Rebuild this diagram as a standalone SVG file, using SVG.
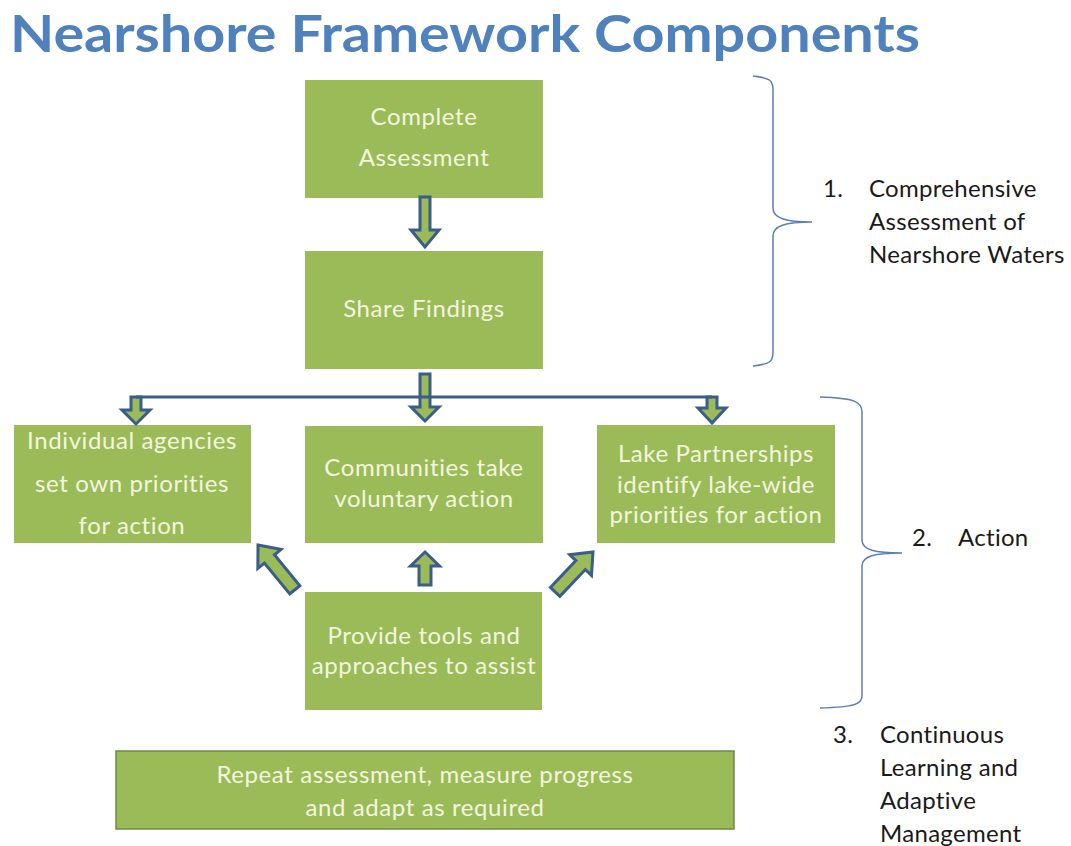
<svg xmlns="http://www.w3.org/2000/svg" width="1071" height="846" viewBox="0 0 1071 846">
  <style>
    .title { font-family: Lato, "Open Sans", sans-serif; font-weight: bold; font-size: 52px; fill: #4F81BD; }
    .box { fill: #9BBB59; }
    .box-outline { fill: #9BBB59; stroke: #6E8A4A; stroke-width: 1.5; }
    .btxt { font-family: Lato, "Open Sans", sans-serif; font-size: 24px; letter-spacing: 0.6px; fill: #F3F6DF; text-anchor: middle; }
    .lbl { font-family: Lato, "Open Sans", sans-serif; font-size: 24px; letter-spacing: 0.3px; fill: #1a1a1a; }
    .arrow { fill: #9BBB59; stroke: #3A5D8C; stroke-width: 3; stroke-linejoin: miter; }
    .line { fill: none; stroke: #3A5D8C; stroke-width: 3; }
    .brace { fill: none; stroke: #5B7FB5; stroke-width: 1.5; }
  </style>

  <text class="title" x="10" y="52" textLength="910" lengthAdjust="spacingAndGlyphs">Nearshore Framework Components</text>

  <!-- process boxes -->
  <g id="complete-assessment">
    <rect class="box" x="305" y="80" width="238" height="118"/>
    <text class="btxt" x="424" y="125">Complete</text>
    <text class="btxt" x="424" y="166">Assessment</text>
  </g>
  <g id="share-findings">
    <rect class="box" x="305" y="251" width="238" height="118"/>
    <text class="btxt" x="424" y="317">Share Findings</text>
  </g>
  <g id="individual-agencies">
    <rect class="box" x="14" y="425" width="237" height="118"/>
    <text class="btxt" x="132" y="449">Individual agencies</text>
    <text class="btxt" x="132" y="492">set own priorities</text>
    <text class="btxt" x="132" y="534">for action</text>
  </g>
  <g id="communities">
    <rect class="box" x="305" y="426" width="238" height="117"/>
    <text class="btxt" x="424" y="476">Communities take</text>
    <text class="btxt" x="424" y="507">voluntary action</text>
  </g>
  <g id="lake-partnerships">
    <rect class="box" x="597" y="425" width="238" height="118"/>
    <text class="btxt" x="716" y="462">Lake Partnerships</text>
    <text class="btxt" x="716" y="493">identify lake-wide</text>
    <text class="btxt" x="716" y="523">priorities for action</text>
  </g>
  <g id="provide-tools">
    <rect class="box" x="305" y="592" width="237" height="118"/>
    <text class="btxt" x="424" y="644">Provide tools and</text>
    <text class="btxt" x="424" y="674">approaches to assist</text>
  </g>
  <g id="repeat-assessment">
    <rect class="box-outline" x="116" y="751" width="618" height="78"/>
    <text class="btxt" x="425" y="783">Repeat assessment, measure progress</text>
    <text class="btxt" x="425" y="816">and adapt as required</text>
  </g>

  <!-- connectors: block arrows and distribution line -->
  <g id="connectors">
    <path class="arrow" transform="translate(425,247)" d="M0,0 L-14,-17 L-5,-17 L-5,-50 L5,-50 L5,-17 L14,-17 Z"/>
    <path class="arrow" transform="translate(425,421)" d="M0,0 L-14,-14 L-5,-14 L-5,-47 L5,-47 L5,-14 L14,-14 Z"/>
    <path class="arrow" transform="translate(136,424)" d="M0,0 L-14,-14 L-5,-14 L-5,-27 L5,-27 L5,-14 L14,-14 Z"/>
    <path class="arrow" transform="translate(712,423)" d="M0,0 L-14,-15 L-5,-15 L-5,-26 L5,-26 L5,-15 L14,-15 Z"/>
    <line class="line" x1="136" y1="397" x2="712" y2="397"/>
    <path class="arrow" transform="translate(425,552)" d="M0,0 L14.5,14 L6,14 L6,33 L-6,33 L-6,14 L-14.5,14 Z"/>
    <path class="arrow" transform="translate(258,545) rotate(-39.4)" d="M0,0 L15,18 L6.5,18 L6.5,58 L-6.5,58 L-6.5,18 L-15,18 Z"/>
    <path class="arrow" transform="translate(593,552) rotate(43.5)" d="M0,0 L15,18 L6.5,18 L6.5,55 L-6.5,55 L-6.5,18 L-15,18 Z"/>
  </g>

  <!-- braces and phase labels -->
  <g id="phase-1">
    <path class="brace" d="M753,76 C770,78 773,80 773,90 L773,208 C773,218 785,222 812,222 C785,222 773,226 773,236 L773,352 C773,362 770,364 753,366"/>
    <text class="lbl" x="823" y="197">1.</text>
    <text class="lbl" x="869" y="197">Comprehensive</text>
    <text class="lbl" x="869" y="230">Assessment of</text>
    <text class="lbl" x="869" y="263">Nearshore Waters</text>
  </g>
  <g id="phase-2">
    <path class="brace" d="M820,397 C855,398 862,402 862,412 L862,540 C862,550 875,553 902,553 C875,553 862,556 862,566 L862,696 C862,704 855,707 820,708"/>
    <text class="lbl" x="912" y="546">2.</text>
    <text class="lbl" x="958" y="546">Action</text>
  </g>
  <g id="phase-3">
    <text class="lbl" x="833" y="743">3.</text>
    <text class="lbl" x="880" y="743">Continuous</text>
    <text class="lbl" x="880" y="776">Learning and</text>
    <text class="lbl" x="880" y="809">Adaptive</text>
    <text class="lbl" x="880" y="842">Management</text>
  </g>
</svg>
